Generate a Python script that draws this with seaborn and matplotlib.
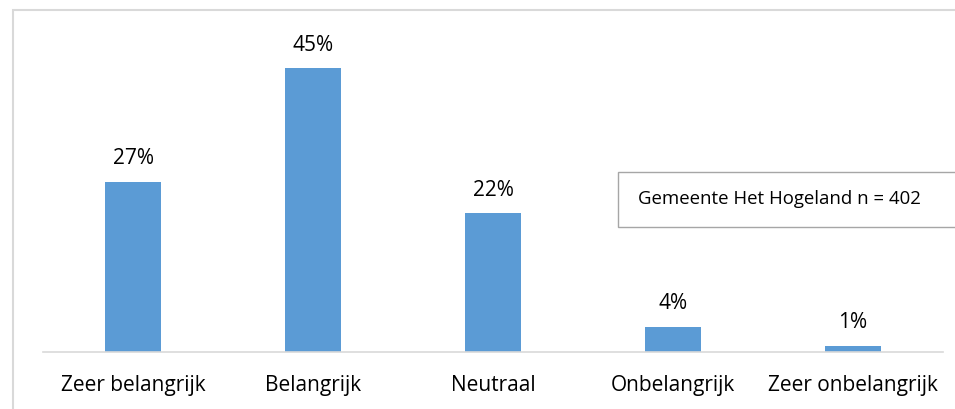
import matplotlib
matplotlib.use("Agg")
import matplotlib.pyplot as plt
import seaborn as sns
import pandas as pd
from matplotlib.patches import Rectangle

categories = ["Zeer belangrijk", "Belangrijk", "Neutraal", "Onbelangrijk", "Zeer onbelangrijk"]
values = [27, 45, 22, 4, 1]
value_labels = ["27%", "45%", "22%", "4%", "1%"]
box_text = "Gemeente Het Hogeland n = 402"

sns.set_theme(style="white")
plt.rcParams['font.family'] = ['Open Sans', 'DejaVu Sans']

W, H = 955, 409
fig = plt.figure(figsize=(W / 100, H / 100), dpi=100)

base_y = 352
px_per = 6.3
ymax = 50
ax = fig.add_axes([43 / W, 1 - base_y / H, 900 / W, ymax * px_per / H])

df = pd.DataFrame({"cat": categories, "val": values})
sns.barplot(data=df, x="cat", y="val", color="#5B9BD5", width=0.31, ax=ax,
            saturation=1, edgecolor="none")
ax.set_ylim(0, ymax)
ax.set_xlim(-0.5, 4.5)
ax.set_xlabel("")
ax.set_ylabel("")
ax.set_yticks([])
for s in ["top", "left", "right"]:
    ax.spines[s].set_visible(False)
ax.spines["bottom"].set_color("#D9D9D9")
ax.spines["bottom"].set_linewidth(1.2)
ax.tick_params(axis="x", length=0, pad=16.5, labelsize=15, colors="black")

for i, (v, lab) in enumerate(zip(values, value_labels)):
    ax.annotate(lab, (i, v), xytext=(0, 12.6), textcoords="offset points",
                ha="center", va="baseline", fontsize=15, color="black")

# outer frame
fig.patches.append(Rectangle((13 / W, -0.1), 1.2, 1 - 10 / H + 0.1,
                             transform=fig.transFigure, fill=False,
                             edgecolor="#D9D9D9", linewidth=1.5))
# text box
fig.patches.append(Rectangle((618 / W, 1 - 227 / H), 0.5, 55 / H,
                             transform=fig.transFigure, facecolor="white",
                             edgecolor="#A6A6A6", linewidth=1.0, zorder=5))
fig.text(638 / W, 1 - 199 / H, box_text, ha="left", va="center",
         fontsize=13.4, color="black", zorder=6)

fig.savefig("out.png", dpi=100)
